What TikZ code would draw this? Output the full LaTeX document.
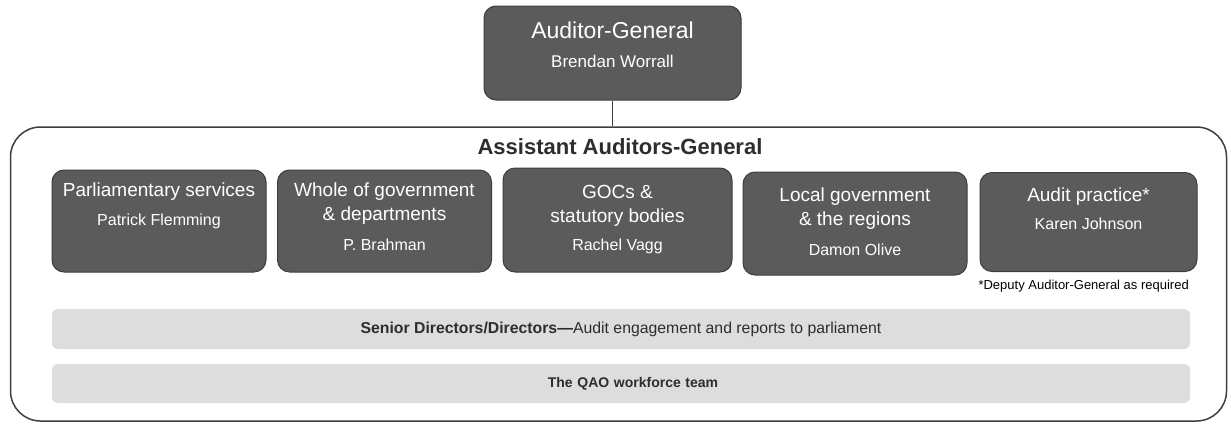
\documentclass[tikz,border=0pt]{standalone}
\usepackage{fontspec}
\setmainfont{Liberation Sans}
\usetikzlibrary{positioning}
\definecolor{unitgray}{RGB}{91,91,91}
\definecolor{edgegray}{RGB}{62,62,62}
\definecolor{bargray}{RGB}{221,221,221}
\definecolor{bartext}{RGB}{45,45,45}
\tikzset{unit/.style={draw=edgegray, fill=unitgray, rounded corners=12pt, line width=1pt, inner sep=0pt, minimum width=214pt, minimum height=102pt}}
\tikzset{unittxt/.style={text=white, align=center, inner sep=0pt, font=\fontsize{19}{24}\selectfont}}
\newcommand{\who}[1]{{\fontsize{16}{18}\selectfont #1}}
\tikzset{bar/.style={fill=bargray, rounded corners=6pt, minimum width=1138pt, inner sep=0pt, text=bartext}}

\begin{document}
\begin{tikzpicture}[x=1pt, y=-1pt]
\useasboundingbox (0,0) rectangle (1231,423);

%%% Top:

\node[unit, minimum width=257pt, minimum height=94pt] (ag) at (612.5,53) {};
\node[unittxt, font=\fontsize{23}{26}\selectfont, below=16pt of ag.north]
 {Auditor-General\\[3pt] {\fontsize{17}{19}\selectfont Brendan Worrall}};

\node[draw=edgegray, line width=1.5pt, rounded corners=30pt, minimum width=1216pt, minimum height=294pt] (aag) at (618.5,274) {};
\draw[edgegray, line width=1pt] (ag.south) -- (ag.south |- aag.north);

\node[font=\bfseries\fontsize{22}{24}\selectfont, text=bartext] (aagtitle) at (620,147) {Assistant Auditors-General};

%%% Assistant Auditors-General:

\node[unit] (u1) at (159,221) {};
\node[unittxt, below=13pt of u1.north] {Parliamentary services\\[5pt] \who{Patrick Flemming}};

\node[unit] (u2) at (384.5,221) {};
\node[unittxt, below=13pt of u2.north] {Whole of government\\ \& departments\\[6pt] \who{P. Brahman}};

\node[unit, minimum width=229pt, minimum height=104pt] (u3) at (617.5,220) {};
\node[unittxt, below=18pt of u3.north] {GOCs \&\\ statutory bodies\\[4pt] \who{Rachel Vagg}};

\node[unit, minimum width=224pt, minimum height=103pt] (u4) at (855,223.5) {};
\node[unittxt, below=16pt of u4.north] {Local government\\ \& the regions\\[6pt] \who{Damon Olive}};

\node[unit, minimum width=217pt, minimum height=99pt] (u5) at (1088.5,222) {};
\node[unittxt, below=16pt of u5.north] {Audit practice*\\[4pt] \who{Karen Johnson}};

\node[anchor=east, inner sep=0pt, font=\fontsize{13}{15}\selectfont] (note) at (1189,286) {*Deputy Auditor-General as required};

%%% Bars:

\node[bar, minimum height=40pt, font=\fontsize{15.8}{17}\selectfont] (dirs) at (621,329)
 {\textbf{Senior Directors/Directors---}Audit engagement and reports to parliament};
\node[bar, minimum height=39pt, font=\fontsize{14}{16}\selectfont, text width=1138pt, align=center] (staff) at (621,383.5)
 {\hspace*{24pt}\textbf{The QAO workforce team}};

\end{tikzpicture}
\end{document}
